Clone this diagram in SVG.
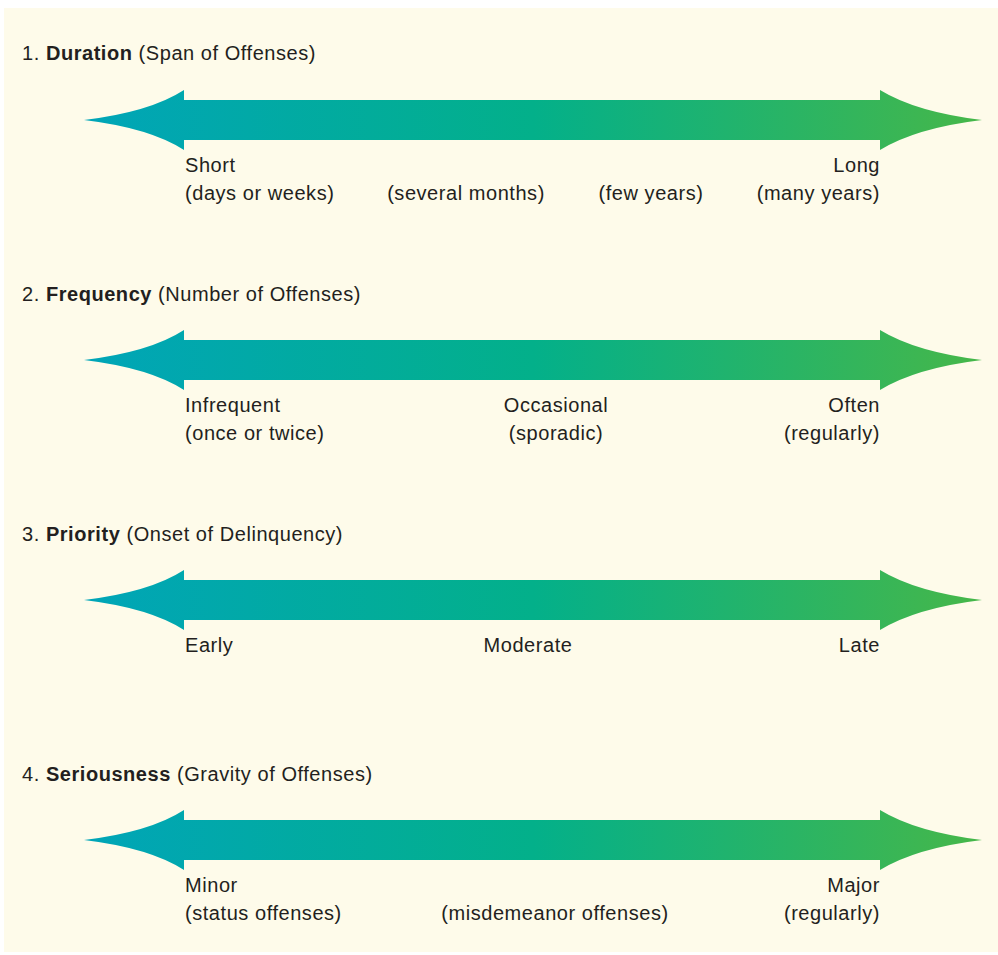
<svg xmlns="http://www.w3.org/2000/svg" width="998" height="955" viewBox="0 0 998 955">
<style>
text{font-family:"Liberation Sans",Arial,sans-serif;font-size:20px;fill:#231f20;letter-spacing:0.55px}
.b{font-weight:bold}
.m{text-anchor:middle}
.e{text-anchor:end}
</style>
<defs>
<linearGradient id="g" gradientUnits="userSpaceOnUse" x1="84" y1="0" x2="982" y2="0">
<stop offset="0" stop-color="#00a5b8"/>
<stop offset="0.5" stop-color="#03b08a"/>
<stop offset="1" stop-color="#46b749"/>
</linearGradient>
<path id="arr" d="M84,0 Q150,-8 184,-30 L184,-20 L880,-20 L880,-30 Q916,-8 982,0 Q916,8 880,30 L880,20 L184,20 L184,30 Q150,8 84,0 Z" fill="url(#g)"/>
</defs>
<rect x="4" y="8" width="994" height="944" fill="#fefbea"/>
<g id="connectors">
<use href="#arr" y="120"/>
<use href="#arr" y="360"/>
<use href="#arr" y="600"/>
<use href="#arr" y="840"/>
</g>
<g id="duration">
<text x="22" y="60">1. <tspan class="b">Duration</tspan> (Span of Offenses)</text>
<text x="185" y="172">Short</text>
<text x="185" y="200">(days or weeks)</text>
<text x="466" y="200" class="m">(several months)</text>
<text x="651" y="200" class="m">(few years)</text>
<text x="880" y="172" class="e">Long</text>
<text x="880" y="200" class="e">(many years)</text>
</g>
<g id="frequency">
<text x="22" y="301">2. <tspan class="b">Frequency</tspan> (Number of Offenses)</text>
<text x="185" y="412">Infrequent</text>
<text x="185" y="440">(once or twice)</text>
<text x="556" y="412" class="m">Occasional</text>
<text x="556" y="440" class="m">(sporadic)</text>
<text x="880" y="412" class="e">Often</text>
<text x="880" y="440" class="e">(regularly)</text>
</g>
<g id="priority">
<text x="22" y="541">3. <tspan class="b">Priority</tspan> (Onset of Delinquency)</text>
<text x="185" y="652">Early</text>
<text x="528" y="652" class="m">Moderate</text>
<text x="880" y="652" class="e">Late</text>
</g>
<g id="seriousness">
<text x="22" y="781">4. <tspan class="b">Seriousness</tspan> (Gravity of Offenses)</text>
<text x="185" y="892">Minor</text>
<text x="185" y="920">(status offenses)</text>
<text x="555" y="920" class="m">(misdemeanor offenses)</text>
<text x="880" y="892" class="e">Major</text>
<text x="880" y="920" class="e">(regularly)</text>
</g>
</svg>
